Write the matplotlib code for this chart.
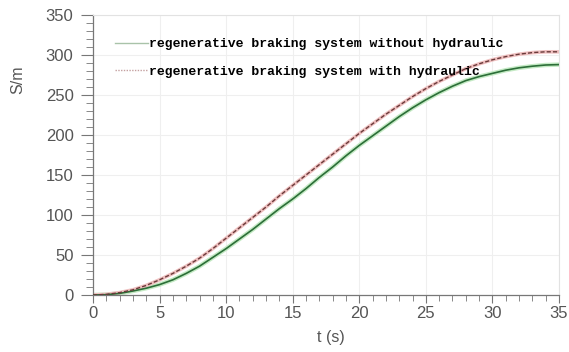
import matplotlib
matplotlib.use("Agg")
import matplotlib.pyplot as plt
from matplotlib.lines import Line2D
from matplotlib.ticker import MultipleLocator

t = [0, 1, 2, 3, 4, 5, 6, 7, 8, 9, 10, 11, 12, 13, 14, 15, 16, 17, 18, 19, 20,
     21, 22, 23, 24, 25, 26, 27, 28, 29, 30, 31, 32, 33, 34, 35]
s_with = [0, 0.8, 3, 6.5, 12, 19, 27, 36, 46, 58, 71, 84, 97, 110, 124, 137, 150,
          163, 176, 189, 202, 214, 226, 237, 248, 258, 267, 275, 283, 289, 294,
          298, 301, 303, 304, 304]
s_without = [0, 0.4, 2, 5, 8.5, 13, 19, 27, 36, 47, 58, 70, 82, 95, 108, 120, 133,
             147, 160, 174, 187, 199, 211, 223, 234, 244, 253, 261, 268, 273, 277,
             281, 284, 286, 287.5, 288]
label_without = "regenerative braking system without hydraulic"
label_with = "regenerative braking system with hydraulic"

fig = plt.figure(figsize=(5.69, 3.52), dpi=100)
ax = fig.add_axes([93/569, 1-295/352, 466/569, 280/352])

# green (without hydraulic): halo + solid line
ax.plot(t, s_without, color="#c4eac4", lw=3.2, solid_capstyle="round", zorder=2)
ax.plot(t, s_without, color="#2c6e38", lw=1.2, zorder=3)
# red (with hydraulic): pink line + dark dashed overlay
ax.plot(t, s_with, color="#efc0c0", lw=2.6, zorder=2)
ax.plot(t, s_with, color="#6a3a3a", lw=1.0, dashes=(3, 1.5), zorder=3)

ax.set_xlim(0, 35)
ax.set_ylim(0, 350)
ax.xaxis.set_major_locator(MultipleLocator(5))
ax.xaxis.set_minor_locator(MultipleLocator(1))
ax.yaxis.set_major_locator(MultipleLocator(50))
ax.yaxis.set_minor_locator(MultipleLocator(10))
ax.grid(True, which="major", color="#efefef", lw=0.8)
ax.set_axisbelow(True)

for side in ("left", "bottom"):
    ax.spines[side].set_color("#777777")
    ax.spines[side].set_linewidth(0.9)
for side in ("top", "right"):
    ax.spines[side].set_color("#e2e2e2")
    ax.spines[side].set_linewidth(0.8)

ax.tick_params(which="major", direction="out", width=0.8, color="#777777",
               labelsize=12, labelcolor="#555555")
ax.tick_params(axis="x", which="major", length=6, pad=2)
ax.tick_params(axis="y", which="major", length=9, pad=5)
ax.tick_params(which="minor", direction="out", width=0.7, color="#888888")
ax.tick_params(axis="x", which="minor", length=4)
ax.tick_params(axis="y", which="minor", length=5)
for lab in ax.get_xticklabels() + ax.get_yticklabels():
    lab.set_family("Liberation Sans")

ax.set_xlabel("t (s)", fontsize=11.5, color="#555555", family="Liberation Sans")
ax.set_ylabel("S/m", fontsize=11.5, color="#555555", family="Liberation Sans")
ax.xaxis.set_label_coords(0.51, -0.125)
ax.yaxis.set_label_coords(-0.145, 0.77)

handles = [
    Line2D([], [], color="#a9c3a9", lw=1.0),
    Line2D([], [], color="#c4a0a0", lw=1.0, ls=(0, (1, 1))),
]
leg = ax.legend(handles, [label_without, label_with], loc="upper left",
                bbox_to_anchor=(0.047, 0.918), frameon=False, borderpad=0,
                borderaxespad=0, handlelength=2.55, handletextpad=0.05,
                labelspacing=1.2,
                prop={"family": "Liberation Mono", "weight": "bold", "size": 9.42})

fig.savefig("out.png", dpi=100)
